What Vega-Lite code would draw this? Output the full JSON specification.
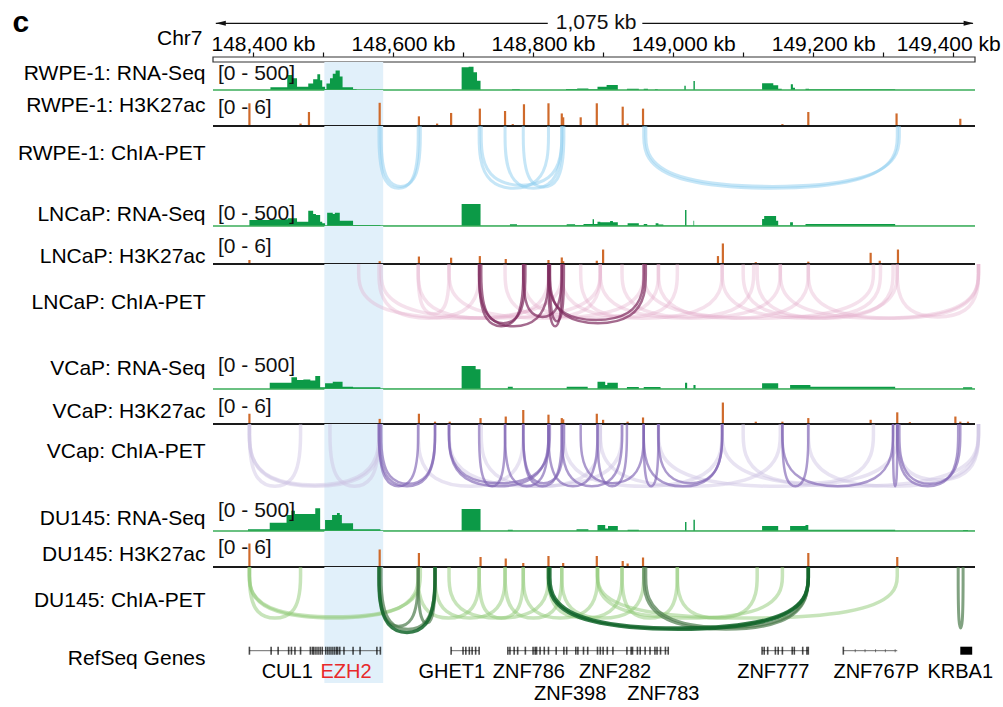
{
"$schema": "https://vega.github.io/schema/vega-lite/v6.json",
"background": "white",
"padding": {"left": 12, "top": 7, "right": 2, "bottom": 2},
"spacing": 0,
"bounds": "flush",
"resolve": {"scale": {"x": "independent", "y": "independent"}},
"config": {
  "view": {"stroke": null},
  "font": "Liberation Sans",
  "text": {"font": "Liberation Sans", "fontSize": 21, "color": "#000"},
  "axisY": {"titleAngle": 0, "titleAlign": "right", "titleBaseline": "middle", "titleX": -8, "titleFontSize": 21, "titleFontWeight": "normal", "titleColor": "#000", "titleFont": "Liberation Sans", "domain": false, "ticks": false, "labels": false, "grid": false},
  "axisX": {"grid": false, "domain": false, "labelColor": "#000", "labelFont": "Liberation Sans", "titleColor": "#000", "titleFont": "Liberation Sans"}
},
"datasets": {
  "hl": [{"s": 148502, "e": 148586}],
  "rna_rwpe": [{"s":148343,"v":0},{"s":148425,"v":50},{"s":148449,"v":280},{"s":148456,"v":220},{"s":148463,"v":60},{"s":148479,"v":120},{"s":148486,"v":200},{"s":148492,"v":290},{"s":148496,"v":180},{"s":148499,"v":60},{"s":148503,"v":20},{"s":148505,"v":120},{"s":148510,"v":220},{"s":148514,"v":300},{"s":148518,"v":360},{"s":148524,"v":250},{"s":148528,"v":50},{"s":148543,"v":15},{"s":148548,"v":0},{"s":148698,"v":420},{"s":148708,"v":430},{"s":148715,"v":330},{"s":148720,"v":170},{"s":148725,"v":0},{"s":148770,"v":15},{"s":148781,"v":0},{"s":148847,"v":20},{"s":148863,"v":30},{"s":148879,"v":13},{"s":148892,"v":61},{"s":148905,"v":93},{"s":148921,"v":0},{"s":148934,"v":24},{"s":148951,"v":0},{"s":148958,"v":24},{"s":148964,"v":0},{"s":148974,"v":13},{"s":148978,"v":0},{"s":149016,"v":80},{"s":149018,"v":0},{"s":149029,"v":167},{"s":149031,"v":0},{"s":149127,"v":124},{"s":149143,"v":90},{"s":149150,"v":24},{"s":149155,"v":0},{"s":149168,"v":105},{"s":149171,"v":40},{"s":149174,"v":0},{"s":149189,"v":24},{"s":149194,"v":13},{"s":149317,"v":0},{"s":149431,"v":0}],
  "rna_lncap": [{"s":148343,"v":0},{"s":148395,"v":130},{"s":148424,"v":145},{"s":148450,"v":167},{"s":148463,"v":94},{"s":148479,"v":333},{"s":148486,"v":261},{"s":148490,"v":240},{"s":148496,"v":94},{"s":148499,"v":58},{"s":148503,"v":5},{"s":148506,"v":290},{"s":148514,"v":260},{"s":148517,"v":290},{"s":148524,"v":116},{"s":148543,"v":22},{"s":148582,"v":8},{"s":148698,"v":478},{"s":148725,"v":8},{"s":148767,"v":36},{"s":148777,"v":10},{"s":148848,"v":36},{"s":148860,"v":20},{"s":148872,"v":43},{"s":148885,"v":145},{"s":148887,"v":43},{"s":148892,"v":94},{"s":148896,"v":80},{"s":148910,"v":110},{"s":148914,"v":80},{"s":148921,"v":10},{"s":148935,"v":58},{"s":148951,"v":10},{"s":148958,"v":43},{"s":148963,"v":10},{"s":148975,"v":58},{"s":148979,"v":30},{"s":148986,"v":10},{"s":149017,"v":348},{"s":149019,"v":10},{"s":149029,"v":116},{"s":149030,"v":10},{"s":149127,"v":150},{"s":149130,"v":217},{"s":149147,"v":116},{"s":149150,"v":10},{"s":149167,"v":80},{"s":149171,"v":10},{"s":149189,"v":43},{"s":149317,"v":5},{"s":149431,"v":5}],
  "rna_vcap": [{"s":148343,"v":0},{"s":148424,"v":93},{"s":148455,"v":172},{"s":148463,"v":132},{"s":148472,"v":138},{"s":148482,"v":125},{"s":148489,"v":191},{"s":148496,"v":25},{"s":148503,"v":83},{"s":148514,"v":107},{"s":148528,"v":34},{"s":148543,"v":25},{"s":148582,"v":5},{"s":148698,"v":338},{"s":148718,"v":290},{"s":148725,"v":5},{"s":148764,"v":34},{"s":148771,"v":5},{"s":148848,"v":34},{"s":148878,"v":5},{"s":148892,"v":107},{"s":148903,"v":60},{"s":148906,"v":93},{"s":148921,"v":5},{"s":148934,"v":30},{"s":148951,"v":5},{"s":148958,"v":30},{"s":148982,"v":5},{"s":149017,"v":93},{"s":149020,"v":5},{"s":149029,"v":60},{"s":149032,"v":5},{"s":149127,"v":83},{"s":149150,"v":5},{"s":149167,"v":59},{"s":149196,"v":34},{"s":149317,"v":5},{"s":149414,"v":25},{"s":149427,"v":5},{"s":149431,"v":5}],
  "rna_du145": [{"s":148343,"v":0},{"s":148393,"v":27},{"s":148424,"v":134},{"s":148448,"v":258},{"s":148455,"v":327},{"s":148460,"v":274},{"s":148486,"v":274},{"s":148489,"v":365},{"s":148496,"v":27},{"s":148503,"v":177},{"s":148513,"v":258},{"s":148520,"v":290},{"s":148524,"v":258},{"s":148527,"v":124},{"s":148543,"v":27},{"s":148582,"v":3},{"s":148698,"v":354},{"s":148725,"v":3},{"s":148764,"v":20},{"s":148771,"v":3},{"s":148862,"v":27},{"s":148879,"v":3},{"s":148892,"v":97},{"s":148903,"v":40},{"s":148907,"v":81},{"s":148921,"v":3},{"s":148935,"v":22},{"s":148951,"v":3},{"s":149017,"v":145},{"s":149019,"v":3},{"s":149029,"v":183},{"s":149031,"v":3},{"s":149127,"v":81},{"s":149150,"v":3},{"s":149167,"v":81},{"s":149189,"v":97},{"s":149193,"v":22},{"s":149317,"v":3},{"s":149414,"v":15},{"s":149421,"v":3},{"s":149431,"v":3}],
  "k27_rwpe": [{"s":148395,"v":4.7},{"s":148468,"v":0.5},{"s":148480,"v":2.9},{"s":148581,"v":4.8},{"s":148637,"v":2.0},{"s":148663,"v":0.5},{"s":148683,"v":2.7},{"s":148724,"v":3.6},{"s":148760,"v":3.1},{"s":148771,"v":0.4},{"s":148787,"v":4.5},{"s":148822,"v":4.7},{"s":148841,"v":2.6},{"s":148843,"v":1.8},{"s":148868,"v":1.8},{"s":148891,"v":4.7},{"s":148928,"v":4.0},{"s":148935,"v":0.5},{"s":148957,"v":3.6},{"s":149156,"v":0.4},{"s":149193,"v":2.9},{"s":149319,"v":2.6},{"s":149410,"v":1.5}],
  "k27_lncap": [{"s":148395,"v":0.86},{"s":148581,"v":0.6},{"s":148637,"v":1.6},{"s":148683,"v":1.35},{"s":148724,"v":1.7},{"s":148761,"v":1.07},{"s":148822,"v":0.86},{"s":148841,"v":1.4},{"s":148843,"v":0.6},{"s":148891,"v":0.7},{"s":148900,"v":3.1},{"s":149064,"v":1.7},{"s":149071,"v":4.4},{"s":149118,"v":0.4},{"s":149193,"v":0.5},{"s":149282,"v":2.4},{"s":149295,"v":0.7},{"s":149321,"v":3.1}],
  "k27_vcap": [{"s":148395,"v":2.2},{"s":148581,"v":1.1},{"s":148637,"v":2.2},{"s":148660,"v":0.5},{"s":148681,"v":0.5},{"s":148725,"v":1.27},{"s":148761,"v":1.6},{"s":148786,"v":3.0},{"s":148822,"v":2.0},{"s":148841,"v":1.27},{"s":148843,"v":1.0},{"s":148891,"v":2.2},{"s":148900,"v":0.9},{"s":148935,"v":0.5},{"s":148957,"v":1.4},{"s":149071,"v":4.6},{"s":149118,"v":0.5},{"s":149156,"v":0.5},{"s":149193,"v":1.27},{"s":149282,"v":0.9},{"s":149320,"v":2.5},{"s":149338,"v":0.4},{"s":149403,"v":1.6},{"s":149410,"v":0.5},{"s":149421,"v":0.5}],
  "k27_du145": [{"s":148395,"v":4.7},{"s":148581,"v":3.5},{"s":148637,"v":2.8},{"s":148725,"v":2.0},{"s":148761,"v":1.7},{"s":148786,"v":0.8},{"s":148822,"v":2.2},{"s":148843,"v":0.8},{"s":148891,"v":2.2},{"s":148928,"v":1.2},{"s":148935,"v":0.7},{"s":148957,"v":1.9},{"s":149193,"v":2.8},{"s":149320,"v":2.0}],
  "arc_rwpe": [
    {"id":"r1","w":"l","x":[148580,148580,148636,148636],"d":[0,1,1,0],"k":[0,1,2,3]},
    {"id":"r2","w":"l","x":[148583,148583,148639,148639],"d":[0,0.97,0.97,0],"k":[0,1,2,3]},
    {"id":"r3","w":"l","x":[148723,148723,148822,148822],"d":[0,1,1,0],"k":[0,1,2,3]},
    {"id":"r4","w":"l","x":[148760,148760,148841,148841],"d":[0,1,1,0],"k":[0,1,2,3]},
    {"id":"r5","w":"l","x":[148786,148786,148844,148844],"d":[0,0.98,0.98,0],"k":[0,1,2,3]},
    {"id":"r6","w":"l","x":[148726,148726,148841,148841],"d":[0,0.95,0.95,0],"k":[0,1,2,3]},
    {"id":"r7","w":"l","x":[148958,148958,149320,149320],"d":[0,1,1,0],"k":[0,1,2,3]},
    {"id":"r8","w":"l","x":[148961,148961,149323,149323],"d":[0,0.97,0.97,0],"k":[0,1,2,3]}
  ],
  "arc_lncap": [
    {"id":"l1","w":"s","x":[148723,148723,148786,148786],"d":[0,1,1,0],"k":[0,1,2,3]},
    {"id":"l2","w":"s","x":[148726,148726,148789,148789],"d":[0,0.95,0.95,0],"k":[0,1,2,3]},
    {"id":"l3","w":"s","x":[148723,148723,148822,148822],"d":[0,1,1,0],"k":[0,1,2,3]},
    {"id":"l4","w":"s","x":[148822,148822,148841,148841],"d":[0,1,1,0],"k":[0,1,2,3]},
    {"id":"l5","w":"s","x":[148824,148824,148844,148844],"d":[0,0.92,0.92,0],"k":[0,1,2,3]},
    {"id":"l6","w":"s","x":[148822,148822,148958,148958],"d":[0,0.9,0.9,0],"k":[0,1,2,3]},
    {"id":"l7","w":"s","x":[148824,148824,148961,148961],"d":[0,0.95,0.95,0],"k":[0,1,2,3]},
    {"id":"l8","w":"s","x":[148786,148786,148841,148841],"d":[0,0.85,0.85,0],"k":[0,1,2,3]},
    {"id":"l9","w":"l","x":[148551,148551,148841,148841],"d":[0,0.87,0.87,0],"k":[0,1,2,3]},
    {"id":"l10","w":"l","x":[148580,148580,148723,148723],"d":[0,0.87,0.87,0],"k":[0,1,2,3]},
    {"id":"l11","w":"l","x":[148583,148583,148896,148896],"d":[0,0.87,0.87,0],"k":[0,1,2,3]},
    {"id":"l12","w":"l","x":[148636,148636,148822,148822],"d":[0,0.87,0.87,0],"k":[0,1,2,3]},
    {"id":"l13","w":"l","x":[148680,148680,148958,148958],"d":[0,0.87,0.87,0],"k":[0,1,2,3]},
    {"id":"l14","w":"l","x":[148760,148760,148896,148896],"d":[0,0.85,0.85,0],"k":[0,1,2,3]},
    {"id":"l15","w":"l","x":[148841,148841,149070,149070],"d":[0,0.87,0.87,0],"k":[0,1,2,3]},
    {"id":"l16","w":"l","x":[148896,148896,149153,149153],"d":[0,0.87,0.87,0],"k":[0,1,2,3]},
    {"id":"l17","w":"l","x":[148927,148927,149115,149115],"d":[0,0.85,0.85,0],"k":[0,1,2,3]},
    {"id":"l18","w":"l","x":[148958,148958,149286,149286],"d":[0,0.87,0.87,0],"k":[0,1,2,3]},
    {"id":"l19","w":"l","x":[148979,148979,149193,149193],"d":[0,0.87,0.87,0],"k":[0,1,2,3]},
    {"id":"l20","w":"l","x":[149070,149070,149320,149320],"d":[0,0.87,0.87,0],"k":[0,1,2,3]},
    {"id":"l21","w":"l","x":[149100,149100,149296,149296],"d":[0,0.85,0.85,0],"k":[0,1,2,3]},
    {"id":"l22","w":"l","x":[149153,149153,149436,149436],"d":[0,0.87,0.87,0],"k":[0,1,2,3]},
    {"id":"l23","w":"l","x":[149193,149193,149436,149436],"d":[0,0.87,0.87,0],"k":[0,1,2,3]},
    {"id":"l24","w":"l","x":[149320,149320,149436,149436],"d":[0,0.85,0.85,0],"k":[0,1,2,3]},
    {"id":"l25","w":"l","x":[148786,148786,148979,148979],"d":[0,0.87,0.87,0],"k":[0,1,2,3]},
    {"id":"l26","w":"l","x":[148868,148868,149006,149006],"d":[0,0.85,0.85,0],"k":[0,1,2,3]},
    {"id":"l27","w":"l","x":[148636,148636,148680,148680],"d":[0,0.8,0.8,0],"k":[0,1,2,3]},
    {"id":"l28","w":"l","x":[149120,149120,149314,149314],"d":[0,0.87,0.87,0],"k":[0,1,2,3]}
  ],
  "arc_vcap": [
    {"id":"v1","w":"s","x":[148580,148580,148636,148636],"d":[0,1,1,0],"k":[0,1,2,3]},
    {"id":"v2","w":"s","x":[148580,148580,148660,148660],"d":[0,1,1,0],"k":[0,1,2,3]},
    {"id":"v3","w":"s","x":[148583,148583,148660,148660],"d":[0,0.96,0.96,0],"k":[0,1,2,3]},
    {"id":"v4","w":"s","x":[148680,148680,148822,148822],"d":[0,1,1,0],"k":[0,1,2,3]},
    {"id":"v5","w":"s","x":[148680,148680,148824,148824],"d":[0,0.95,0.95,0],"k":[0,1,2,3]},
    {"id":"v6","w":"s","x":[148723,148723,148760,148760],"d":[0,1,1,0],"k":[0,1,2,3]},
    {"id":"v7","w":"s","x":[148760,148760,148822,148822],"d":[0,1,1,0],"k":[0,1,2,3]},
    {"id":"v8","w":"s","x":[148786,148786,148841,148841],"d":[0,1,1,0],"k":[0,1,2,3]},
    {"id":"v9","w":"s","x":[148786,148786,148844,148844],"d":[0,0.95,0.95,0],"k":[0,1,2,3]},
    {"id":"v10","w":"s","x":[148822,148822,148892,148892],"d":[0,1,1,0],"k":[0,1,2,3]},
    {"id":"v11","w":"s","x":[148841,148841,148927,148927],"d":[0,1,1,0],"k":[0,1,2,3]},
    {"id":"v12","w":"s","x":[148892,148892,148934,148934],"d":[0,1,1,0],"k":[0,1,2,3]},
    {"id":"v13","w":"s","x":[148868,148868,148958,148958],"d":[0,0.95,0.95,0],"k":[0,1,2,3]},
    {"id":"v14","w":"s","x":[148958,148958,148979,148979],"d":[0,1,1,0],"k":[0,1,2,3]},
    {"id":"v15","w":"s","x":[148958,148958,149070,149070],"d":[0,1,1,0],"k":[0,1,2,3]},
    {"id":"v16","w":"s","x":[148979,148979,149070,149070],"d":[0,0.95,0.95,0],"k":[0,1,2,3]},
    {"id":"v17","w":"s","x":[149156,149156,149193,149193],"d":[0,1,1,0],"k":[0,1,2,3]},
    {"id":"v18","w":"s","x":[149156,149156,149314,149314],"d":[0,1,1,0],"k":[0,1,2,3]},
    {"id":"v19","w":"s","x":[149314,149314,149320,149320],"d":[0,1,1,0],"k":[0,1,2,3]},
    {"id":"v20","w":"s","x":[149320,149320,149407,149407],"d":[0,1,1,0],"k":[0,1,2,3]},
    {"id":"v21","w":"s","x":[149323,149323,149410,149410],"d":[0,0.96,0.96,0],"k":[0,1,2,3]},
    {"id":"v22","w":"l","x":[148395,148395,148468,148468],"d":[0,1,1,0],"k":[0,1,2,3]},
    {"id":"v23","w":"l","x":[148395,148395,148580,148580],"d":[0,0.98,0.98,0],"k":[0,1,2,3]},
    {"id":"v24","w":"l","x":[148395,148395,148583,148583],"d":[0,1,1,0],"k":[0,1,2,3]},
    {"id":"v25","w":"l","x":[148510,148510,148580,148580],"d":[0,1,1,0],"k":[0,1,2,3]},
    {"id":"v26","w":"l","x":[148636,148636,148786,148786],"d":[0,1,1,0],"k":[0,1,2,3]},
    {"id":"v27","w":"l","x":[148726,148726,148896,148896],"d":[0,1,1,0],"k":[0,1,2,3]},
    {"id":"v28","w":"l","x":[148896,148896,149153,149153],"d":[0,1,1,0],"k":[0,1,2,3]},
    {"id":"v29","w":"l","x":[148979,148979,149320,149320],"d":[0,1,1,0],"k":[0,1,2,3]},
    {"id":"v30","w":"l","x":[149070,149070,149436,149436],"d":[0,1,1,0],"k":[0,1,2,3]},
    {"id":"v31","w":"l","x":[149193,149193,149436,149436],"d":[0,1,1,0],"k":[0,1,2,3]},
    {"id":"v32","w":"l","x":[149320,149320,149436,149436],"d":[0,0.9,0.9,0],"k":[0,1,2,3]},
    {"id":"v33","w":"l","x":[148844,148844,149070,149070],"d":[0,1,1,0],"k":[0,1,2,3]},
    {"id":"v34","w":"l","x":[148680,148680,148927,148927],"d":[0,1,1,0],"k":[0,1,2,3]},
    {"id":"v35","w":"l","x":[149100,149100,149286,149286],"d":[0,0.95,0.95,0],"k":[0,1,2,3]}
  ],
  "arc_du145": [
    {"id":"d1","w":"s","x":[148822,148822,149193,149193],"d":[0,1,1,0],"k":[0,1,2,3]},
    {"id":"d2","w":"s","x":[148824,148824,149193,149193],"d":[0,0.98,0.98,0],"k":[0,1,2,3]},
    {"id":"d3","w":"s","x":[148580,148580,148660,148660],"d":[0,1.05,1.05,0],"k":[0,1,2,3]},
    {"id":"d4","w":"m","x":[148583,148583,148660,148660],"d":[0,1,1,0],"k":[0,1,2,3]},
    {"id":"d5","w":"m","x":[148580,148580,148636,148636],"d":[0,0.95,0.95,0],"k":[0,1,2,3]},
    {"id":"d6","w":"m","x":[148636,148636,148660,148660],"d":[0,0.9,0.9,0],"k":[0,1,2,3]},
    {"id":"d7","w":"m","x":[148958,148958,149193,149193],"d":[0,1,1,0],"k":[0,1,2,3]},
    {"id":"d8","w":"m","x":[148961,148961,149193,149193],"d":[0,0.97,0.97,0],"k":[0,1,2,3]},
    {"id":"d9","w":"m","x":[149407,149407,149414,149414],"d":[0,0.98,0.98,0],"k":[0,1,2,3]},
    {"id":"d10","w":"l","x":[148395,148395,148468,148468],"d":[0,0.82,0.82,0],"k":[0,1,2,3]},
    {"id":"d11","w":"l","x":[148395,148395,148636,148636],"d":[0,0.82,0.82,0],"k":[0,1,2,3]},
    {"id":"d12","w":"l","x":[148395,148395,148639,148639],"d":[0,0.8,0.8,0],"k":[0,1,2,3]},
    {"id":"d13","w":"l","x":[148636,148636,148723,148723],"d":[0,0.82,0.82,0],"k":[0,1,2,3]},
    {"id":"d14","w":"l","x":[148660,148660,148760,148760],"d":[0,0.82,0.82,0],"k":[0,1,2,3]},
    {"id":"d15","w":"l","x":[148680,148680,148822,148822],"d":[0,0.82,0.82,0],"k":[0,1,2,3]},
    {"id":"d16","w":"l","x":[148723,148723,148786,148786],"d":[0,0.82,0.82,0],"k":[0,1,2,3]},
    {"id":"d17","w":"l","x":[148760,148760,148841,148841],"d":[0,0.82,0.82,0],"k":[0,1,2,3]},
    {"id":"d18","w":"l","x":[148786,148786,148892,148892],"d":[0,0.82,0.82,0],"k":[0,1,2,3]},
    {"id":"d19","w":"l","x":[148822,148822,148927,148927],"d":[0,0.82,0.82,0],"k":[0,1,2,3]},
    {"id":"d20","w":"l","x":[148841,148841,148958,148958],"d":[0,0.82,0.82,0],"k":[0,1,2,3]},
    {"id":"d21","w":"l","x":[148892,148892,149156,149156],"d":[0,0.82,0.82,0],"k":[0,1,2,3]},
    {"id":"d22","w":"l","x":[148892,148892,149320,149320],"d":[0,0.82,0.82,0],"k":[0,1,2,3]},
    {"id":"d23","w":"l","x":[149006,149006,149120,149120],"d":[0,0.82,0.82,0],"k":[0,1,2,3]},
    {"id":"d24","w":"l","x":[148927,148927,149006,149006],"d":[0,0.82,0.82,0],"k":[0,1,2,3]}
  ],
  "gene_lines": [{"s":148395,"e":148582},{"s":148683,"e":148723},{"s":148764,"e":148993},{"s":149127,"e":149193},{"s":149243,"e":149320}],
  "gene_ex": [{"s":148395},{"s":148426},{"s":148436},{"s":148451},{"s":148455},{"s":148460},{"s":148468},{"s":148482},{"s":148485},{"s":148487},{"s":148490},{"s":148493},{"s":148496},{"s":148499},{"s":148504},{"s":148507},{"s":148510},{"s":148513},{"s":148516},{"s":148519},{"s":148521},{"s":148524},{"s":148530},{"s":148543},{"s":148553},{"s":148577},{"s":148582},{"s":148683},{"s":148700},{"s":148704},{"s":148709},{"s":148713},{"s":148718},{"s":148723},{"s":148764},{"s":148767},{"s":148773},{"s":148778},{"s":148789},{"s":148800},{"s":148803},{"s":148805},{"s":148810},{"s":148816},{"s":148822},{"s":148833},{"s":148844},{"s":148848},{"s":148861},{"s":148864},{"s":148872},{"s":148878},{"s":148892},{"s":148896},{"s":148900},{"s":148906},{"s":148914},{"s":148934},{"s":148940},{"s":148942},{"s":148949},{"s":148953},{"s":148960},{"s":148967},{"s":148974},{"s":148977},{"s":148982},{"s":148989},{"s":148993},{"s":149127},{"s":149130},{"s":149135},{"s":149146},{"s":149150},{"s":149156},{"s":149170},{"s":149173},{"s":149185},{"s":149191},{"s":149193},{"s":149243}],
  "gene_small": [{"s":149260},{"s":149274},{"s":149289},{"s":149303},{"s":149317}],
  "gene_blocks": [{"s":149410,"e":149427}],
  "gene_names": [{"name":"CUL1","s":148449,"row":"r1"},{"name":"EZH2","s":148533,"row":"r1"},{"name":"GHET1","s":148684,"row":"r1"},{"name":"ZNF786","s":148794,"row":"r1"},{"name":"ZNF282","s":148917,"row":"r1"},{"name":"ZNF777","s":149143,"row":"r1"},{"name":"ZNF767P","s":149290,"row":"r1"},{"name":"KRBA1","s":149410,"row":"r1"},{"name":"ZNF398","s":148853,"row":"r2"},{"name":"ZNF783","s":148986,"row":"r2"}]
},
"vconcat": [
  {"width": 762, "height": 5,
   "resolve": {"axis": {"x": "independent"}},
   "layer": [
    {"data": {"values": [{}]}, "mark": {"type": "rect", "fill": "#fff", "stroke": "#333", "strokeWidth": 1.2},
     "encoding": {
      "x": {"datum": 148343, "type": "quantitative", "scale": {"domain": [148343, 149431], "nice": false, "zero": false},
            "axis": {"orient": "top", "values": [148400,148500,148600,148700,148800,148900,149000,149100,149200,149300,149400], "labels": false, "domain": false, "ticks": true, "tickSize": 5, "tickWidth": 1.2, "tickColor": "#111", "grid": false, "title": null}},
      "x2": {"datum": 149431},
      "y": {"datum": 0, "type": "quantitative", "scale": {"domain": [0, 1], "nice": false, "zero": false},
            "axis": {"title": "c", "titleX": -201, "titleY": -35, "titleAlign": "left", "titleFontSize": 30, "titleFontWeight": "bold"}},
      "y2": {"datum": 1}}},
    {"data": {"values": [{}]}, "mark": {"type": "rule", "color": "#111", "strokeWidth": 1.2},
     "encoding": {
      "x": {"datum": 148347, "type": "quantitative", "scale": {"domain": [148343, 149431], "nice": false, "zero": false},
            "axis": {"orient": "top", "values": [148400,148600,148800,149000,149200], "labelExpr": "format(datum.value, ',') + ' kb'", "labelFontSize": 21, "labelPadding": 3, "labelOffset": 10, "ticks": false, "domain": false, "grid": false, "title": "Chr7", "titleFontSize": 21, "titleFontWeight": "normal", "titleX": -11, "titleY": -19, "titleAlign": "right", "titleBaseline": "middle", "titleAngle": 0}},
      "x2": {"datum": 148821},
      "y": {"datum": 7.74, "type": "quantitative", "scale": {"domain": [0, 1], "nice": false, "zero": false}}}},
    {"data": {"values": [{}]}, "mark": {"type": "rule", "color": "#111", "strokeWidth": 1.2},
     "encoding": {
      "x": {"datum": 148956, "type": "quantitative", "scale": {"domain": [148343, 149431], "nice": false, "zero": false},
            "axis": {"orient": "top", "values": [149400], "labelExpr": "format(datum.value, ',') + ' kb'", "labelFontSize": 21, "labelPadding": 3, "labelOffset": -5, "ticks": false, "domain": false, "grid": false, "title": null}},
      "x2": {"datum": 149428},
      "y": {"datum": 7.74, "type": "quantitative", "scale": {"domain": [0, 1], "nice": false, "zero": false}}}},
    {"data": {"values": [{}]}, "mark": {"type": "point", "shape": "M0,0L2,-0.5L2,0.5Z", "filled": true, "color": "#111", "size": 100, "opacity": 1},
     "encoding": {
      "x": {"datum": 148347, "type": "quantitative", "scale": {"domain": [148343, 149431], "nice": false, "zero": false}, "axis": null},
      "y": {"datum": 7.74, "type": "quantitative", "scale": {"domain": [0, 1], "nice": false, "zero": false}}}},
    {"data": {"values": [{}]}, "mark": {"type": "point", "shape": "M0,0L-2,-0.5L-2,0.5Z", "filled": true, "color": "#111", "size": 100, "opacity": 1},
     "encoding": {
      "x": {"datum": 149429, "type": "quantitative", "scale": {"domain": [148343, 149431], "nice": false, "zero": false}, "axis": null},
      "y": {"datum": 7.74, "type": "quantitative", "scale": {"domain": [0, 1], "nice": false, "zero": false}}}},
    {"data": {"values": [{}]}, "mark": {"type": "text", "fontSize": 21, "align": "center", "baseline": "middle", "color": "#111"},
     "encoding": {
      "x": {"datum": 148890, "type": "quantitative", "scale": {"domain": [148343, 149431], "nice": false, "zero": false}, "axis": null},
      "y": {"datum": 7.74, "type": "quantitative", "scale": {"domain": [0, 1], "nice": false, "zero": false}},
      "text": {"value": "1,075 kb"}}}
   ]},

  {"width": 762, "height": 28, "layer": [
    {"data": {"name": "hl"}, "mark": {"type": "rect", "color": "#e1f0fa"}, "encoding": {"x": {"field": "s", "type": "quantitative", "scale": {"domain": [148343, 149431], "nice": false, "zero": false}, "axis": null}, "x2": {"field": "e"}}},
    {"data": {"name": "rna_rwpe"}, "mark": {"type": "area", "interpolate": "step-after", "color": "#0c9a47"}, "encoding": {"x": {"field": "s", "type": "quantitative", "scale": {"domain": [148343, 149431], "nice": false, "zero": false}, "axis": null}, "y": {"field": "v", "type": "quantitative", "scale": {"domain": [0, 519], "nice": false, "zero": false}, "axis": {"title": "RWPE-1: RNA-Seq", "titleY": 11.5}}}},
    {"data": {"values": [{}]}, "mark": {"type": "rule", "color": "#3aac58", "strokeWidth": 1.5}, "encoding": {"y": {"datum": 0, "type": "quantitative", "scale": {"domain": [0, 519], "nice": false, "zero": false}}}},
    {"data": {"values": [{}]}, "mark": {"type": "text", "align": "left", "baseline": "top", "dx": 5, "fontSize": 21, "color": "#111"}, "encoding": {"x": {"datum": 148343, "type": "quantitative", "scale": {"domain": [148343, 149431], "nice": false, "zero": false}, "axis": null}, "y": {"datum": 500, "type": "quantitative", "scale": {"domain": [0, 519], "nice": false, "zero": false}}, "text": {"value": "[0 - 500]"}}}
  ]},
  {"width": 762, "height": 36, "layer": [
    {"data": {"name": "hl"}, "mark": {"type": "rect", "color": "#e1f0fa"}, "encoding": {"x": {"field": "s", "type": "quantitative", "scale": {"domain": [148343, 149431], "nice": false, "zero": false}, "axis": null}, "x2": {"field": "e"}}},
    {"data": {"name": "k27_rwpe"}, "mark": {"type": "rule", "color": "#cf6a2b", "strokeWidth": 2.2}, "encoding": {"x": {"field": "s", "type": "quantitative", "scale": {"domain": [148343, 149431], "nice": false, "zero": false}, "axis": null}, "y": {"field": "v", "type": "quantitative", "scale": {"domain": [0, 7.45], "nice": false, "zero": false}, "axis": {"title": "RWPE-1: H3K27ac", "titleY": 15}}, "y2": {"datum": 0}}},
    {"data": {"values": [{}]}, "mark": {"type": "rule", "color": "#1a1a1a", "strokeWidth": 2.2}, "encoding": {"y": {"datum": 0, "type": "quantitative", "scale": {"domain": [0, 7.45], "nice": false, "zero": false}}}},
    {"data": {"values": [{}]}, "mark": {"type": "text", "align": "left", "baseline": "top", "dx": 5, "fontSize": 21, "color": "#111"}, "encoding": {"x": {"datum": 148343, "type": "quantitative", "scale": {"domain": [148343, 149431], "nice": false, "zero": false}, "axis": null}, "y": {"datum": 6, "type": "quantitative", "scale": {"domain": [0, 7.45], "nice": false, "zero": false}}, "text": {"value": "[0 - 6]"}}}
  ]},
  {"width": 762, "height": 77, "layer": [
    {"data": {"name": "hl"}, "mark": {"type": "rect", "color": "#e1f0fa"}, "encoding": {"x": {"field": "s", "type": "quantitative", "scale": {"domain": [148343, 149431], "nice": false, "zero": false}, "axis": null}, "x2": {"field": "e"}}},
    {"data": {"name": "arc_rwpe"}, "transform": [{"flatten": ["x", "d", "k"]}], "mark": {"type": "line", "interpolate": "basis", "color": "#8ecdf0", "strokeWidth": 3, "opacity": 0.5}, "encoding": {"x": {"field": "x", "type": "quantitative", "scale": {"domain": [148343, 149431], "nice": false, "zero": false}, "axis": null}, "y": {"field": "d", "type": "quantitative", "scale": {"domain": [0, 1.1846], "reverse": true, "nice": false, "zero": false}, "axis": {"title": "RWPE-1: ChIA-PET", "titleY": 27}}, "detail": {"field": "id", "type": "nominal"}, "order": {"field": "k", "type": "quantitative"}}}
  ]},

  {"width": 762, "height": 23, "layer": [
    {"data": {"name": "hl"}, "mark": {"type": "rect", "color": "#e1f0fa"}, "encoding": {"x": {"field": "s", "type": "quantitative", "scale": {"domain": [148343, 149431], "nice": false, "zero": false}, "axis": null}, "x2": {"field": "e"}}},
    {"data": {"name": "rna_lncap"}, "mark": {"type": "area", "interpolate": "step-after", "color": "#0c9a47"}, "encoding": {"x": {"field": "s", "type": "quantitative", "scale": {"domain": [148343, 149431], "nice": false, "zero": false}, "axis": null}, "y": {"field": "v", "type": "quantitative", "scale": {"domain": [0, 500], "nice": false, "zero": false}, "axis": {"title": "LNCaP: RNA-Seq", "titleY": 11}}}},
    {"data": {"values": [{}]}, "mark": {"type": "rule", "color": "#3aac58", "strokeWidth": 1.5}, "encoding": {"y": {"datum": 0, "type": "quantitative", "scale": {"domain": [0, 500], "nice": false, "zero": false}}}},
    {"data": {"values": [{}]}, "mark": {"type": "text", "align": "left", "baseline": "top", "dx": 5, "fontSize": 21, "color": "#111"}, "encoding": {"x": {"datum": 148343, "type": "quantitative", "scale": {"domain": [148343, 149431], "nice": false, "zero": false}, "axis": null}, "y": {"datum": 500, "type": "quantitative", "scale": {"domain": [0, 500], "nice": false, "zero": false}}, "text": {"value": "[0 - 500]"}}}
  ]},
  {"width": 762, "height": 38, "layer": [
    {"data": {"name": "hl"}, "mark": {"type": "rect", "color": "#e1f0fa"}, "encoding": {"x": {"field": "s", "type": "quantitative", "scale": {"domain": [148343, 149431], "nice": false, "zero": false}, "axis": null}, "x2": {"field": "e"}}},
    {"data": {"name": "k27_lncap"}, "mark": {"type": "rule", "color": "#cf6a2b", "strokeWidth": 2.2}, "encoding": {"x": {"field": "s", "type": "quantitative", "scale": {"domain": [148343, 149431], "nice": false, "zero": false}, "axis": null}, "y": {"field": "v", "type": "quantitative", "scale": {"domain": [0, 8.14], "nice": false, "zero": false}, "axis": {"title": "LNCaP: H3K27ac", "titleY": 30}}, "y2": {"datum": 0}}},
    {"data": {"values": [{}]}, "mark": {"type": "rule", "color": "#1a1a1a", "strokeWidth": 2.2}, "encoding": {"y": {"datum": 0, "type": "quantitative", "scale": {"domain": [0, 8.14], "nice": false, "zero": false}}}},
    {"data": {"values": [{}]}, "mark": {"type": "text", "align": "left", "baseline": "top", "dx": 5, "fontSize": 21, "color": "#111"}, "encoding": {"x": {"datum": 148343, "type": "quantitative", "scale": {"domain": [148343, 149431], "nice": false, "zero": false}, "axis": null}, "y": {"datum": 6, "type": "quantitative", "scale": {"domain": [0, 8.14], "nice": false, "zero": false}}, "text": {"value": "[0 - 6]"}}}
  ]},
  {"width": 762, "height": 91, "layer": [
    {"data": {"name": "hl"}, "mark": {"type": "rect", "color": "#e1f0fa"}, "encoding": {"x": {"field": "s", "type": "quantitative", "scale": {"domain": [148343, 149431], "nice": false, "zero": false}, "axis": null}, "x2": {"field": "e"}}},
    {"data": {"name": "arc_lncap"}, "transform": [{"filter": "datum.w === 'l'"}, {"flatten": ["x", "d", "k"]}], "mark": {"type": "line", "interpolate": "basis", "color": "#e2a9c8", "strokeWidth": 3.5, "opacity": 0.35}, "encoding": {"x": {"field": "x", "type": "quantitative", "scale": {"domain": [148343, 149431], "nice": false, "zero": false}, "axis": null}, "y": {"field": "d", "type": "quantitative", "scale": {"domain": [0, 1.4], "reverse": true, "nice": false, "zero": false}, "axis": {"title": "LNCaP: ChIA-PET", "titleY": 38}}, "detail": {"field": "id", "type": "nominal"}, "order": {"field": "k", "type": "quantitative"}}},
    {"data": {"name": "arc_lncap"}, "transform": [{"filter": "datum.w === 's'"}, {"flatten": ["x", "d", "k"]}], "mark": {"type": "line", "interpolate": "basis", "color": "#7d2b5e", "strokeWidth": 2.5, "opacity": 0.7}, "encoding": {"x": {"field": "x", "type": "quantitative", "scale": {"domain": [148343, 149431], "nice": false, "zero": false}, "axis": null}, "y": {"field": "d", "type": "quantitative", "scale": {"domain": [0, 1.4], "reverse": true, "nice": false, "zero": false}}, "detail": {"field": "id", "type": "nominal"}, "order": {"field": "k", "type": "quantitative"}}}
  ]},

  {"width": 762, "height": 34, "layer": [
    {"data": {"name": "hl"}, "mark": {"type": "rect", "color": "#e1f0fa"}, "encoding": {"x": {"field": "s", "type": "quantitative", "scale": {"domain": [148343, 149431], "nice": false, "zero": false}, "axis": null}, "x2": {"field": "e"}}},
    {"data": {"name": "rna_vcap"}, "mark": {"type": "area", "interpolate": "step-after", "color": "#0c9a47"}, "encoding": {"x": {"field": "s", "type": "quantitative", "scale": {"domain": [148343, 149431], "nice": false, "zero": false}, "axis": null}, "y": {"field": "v", "type": "quantitative", "scale": {"domain": [0, 500], "nice": false, "zero": false}, "axis": {"title": "VCaP: RNA-Seq", "titleY": 13}}}},
    {"data": {"values": [{}]}, "mark": {"type": "rule", "color": "#3aac58", "strokeWidth": 1.5}, "encoding": {"y": {"datum": 0, "type": "quantitative", "scale": {"domain": [0, 500], "nice": false, "zero": false}}}},
    {"data": {"values": [{}]}, "mark": {"type": "text", "align": "left", "baseline": "top", "dx": 5, "fontSize": 21, "color": "#111"}, "encoding": {"x": {"datum": 148343, "type": "quantitative", "scale": {"domain": [148343, 149431], "nice": false, "zero": false}, "axis": null}, "y": {"datum": 500, "type": "quantitative", "scale": {"domain": [0, 500], "nice": false, "zero": false}}, "text": {"value": "[0 - 500]"}}}
  ]},
  {"width": 762, "height": 35, "layer": [
    {"data": {"name": "hl"}, "mark": {"type": "rect", "color": "#e1f0fa"}, "encoding": {"x": {"field": "s", "type": "quantitative", "scale": {"domain": [148343, 149431], "nice": false, "zero": false}, "axis": null}, "x2": {"field": "e"}}},
    {"data": {"name": "k27_vcap"}, "mark": {"type": "rule", "color": "#cf6a2b", "strokeWidth": 2.2}, "encoding": {"x": {"field": "s", "type": "quantitative", "scale": {"domain": [148343, 149431], "nice": false, "zero": false}, "axis": null}, "y": {"field": "v", "type": "quantitative", "scale": {"domain": [0, 7.5], "nice": false, "zero": false}, "axis": {"title": "VCaP: H3K27ac", "titleY": 22}}, "y2": {"datum": 0}}},
    {"data": {"values": [{}]}, "mark": {"type": "rule", "color": "#1a1a1a", "strokeWidth": 2.2}, "encoding": {"y": {"datum": 0, "type": "quantitative", "scale": {"domain": [0, 7.5], "nice": false, "zero": false}}}},
    {"data": {"values": [{}]}, "mark": {"type": "text", "align": "left", "baseline": "top", "dx": 5, "fontSize": 21, "color": "#111"}, "encoding": {"x": {"datum": 148343, "type": "quantitative", "scale": {"domain": [148343, 149431], "nice": false, "zero": false}, "axis": null}, "y": {"datum": 6, "type": "quantitative", "scale": {"domain": [0, 7.5], "nice": false, "zero": false}}, "text": {"value": "[0 - 6]"}}}
  ]},
  {"width": 762, "height": 76, "layer": [
    {"data": {"name": "hl"}, "mark": {"type": "rect", "color": "#e1f0fa"}, "encoding": {"x": {"field": "s", "type": "quantitative", "scale": {"domain": [148343, 149431], "nice": false, "zero": false}, "axis": null}, "x2": {"field": "e"}}},
    {"data": {"name": "arc_vcap"}, "transform": [{"filter": "datum.w === 'l'"}, {"flatten": ["x", "d", "k"]}], "mark": {"type": "line", "interpolate": "basis", "color": "#cbc0e3", "strokeWidth": 3.5, "opacity": 0.45}, "encoding": {"x": {"field": "x", "type": "quantitative", "scale": {"domain": [148343, 149431], "nice": false, "zero": false}, "axis": null}, "y": {"field": "d", "type": "quantitative", "scale": {"domain": [0, 1.1692], "reverse": true, "nice": false, "zero": false}, "axis": {"title": "VCap: ChIA-PET", "titleY": 27}}, "detail": {"field": "id", "type": "nominal"}, "order": {"field": "k", "type": "quantitative"}}},
    {"data": {"name": "arc_vcap"}, "transform": [{"filter": "datum.w === 's'"}, {"flatten": ["x", "d", "k"]}], "mark": {"type": "line", "interpolate": "basis", "color": "#7f64b4", "strokeWidth": 2.5, "opacity": 0.65}, "encoding": {"x": {"field": "x", "type": "quantitative", "scale": {"domain": [148343, 149431], "nice": false, "zero": false}, "axis": null}, "y": {"field": "d", "type": "quantitative", "scale": {"domain": [0, 1.1692], "reverse": true, "nice": false, "zero": false}}, "detail": {"field": "id", "type": "nominal"}, "order": {"field": "k", "type": "quantitative"}}}
  ]},

  {"width": 762, "height": 31, "layer": [
    {"data": {"name": "hl"}, "mark": {"type": "rect", "color": "#e1f0fa"}, "encoding": {"x": {"field": "s", "type": "quantitative", "scale": {"domain": [148343, 149431], "nice": false, "zero": false}, "axis": null}, "x2": {"field": "e"}}},
    {"data": {"name": "rna_du145"}, "mark": {"type": "area", "interpolate": "step-after", "color": "#0c9a47"}, "encoding": {"x": {"field": "s", "type": "quantitative", "scale": {"domain": [148343, 149431], "nice": false, "zero": false}, "axis": null}, "y": {"field": "v", "type": "quantitative", "scale": {"domain": [0, 500], "nice": false, "zero": false}, "axis": {"title": "DU145: RNA-Seq", "titleY": 18}}}},
    {"data": {"values": [{}]}, "mark": {"type": "rule", "color": "#3aac58", "strokeWidth": 1.5}, "encoding": {"y": {"datum": 0, "type": "quantitative", "scale": {"domain": [0, 500], "nice": false, "zero": false}}}},
    {"data": {"values": [{}]}, "mark": {"type": "text", "align": "left", "baseline": "top", "dx": 5, "fontSize": 21, "color": "#111"}, "encoding": {"x": {"datum": 148343, "type": "quantitative", "scale": {"domain": [148343, 149431], "nice": false, "zero": false}, "axis": null}, "y": {"datum": 500, "type": "quantitative", "scale": {"domain": [0, 500], "nice": false, "zero": false}}, "text": {"value": "[0 - 500]"}}}
  ]},
  {"width": 762, "height": 36, "layer": [
    {"data": {"name": "hl"}, "mark": {"type": "rect", "color": "#e1f0fa"}, "encoding": {"x": {"field": "s", "type": "quantitative", "scale": {"domain": [148343, 149431], "nice": false, "zero": false}, "axis": null}, "x2": {"field": "e"}}},
    {"data": {"name": "k27_du145"}, "mark": {"type": "rule", "color": "#cf6a2b", "strokeWidth": 2.2}, "encoding": {"x": {"field": "s", "type": "quantitative", "scale": {"domain": [148343, 149431], "nice": false, "zero": false}, "axis": null}, "y": {"field": "v", "type": "quantitative", "scale": {"domain": [0, 7.2], "nice": false, "zero": false}, "axis": {"title": "DU145: H3K27ac", "titleY": 23}}, "y2": {"datum": 0}}},
    {"data": {"values": [{}]}, "mark": {"type": "rule", "color": "#1a1a1a", "strokeWidth": 2.2}, "encoding": {"y": {"datum": 0, "type": "quantitative", "scale": {"domain": [0, 7.2], "nice": false, "zero": false}}}},
    {"data": {"values": [{}]}, "mark": {"type": "text", "align": "left", "baseline": "top", "dx": 5, "fontSize": 21, "color": "#111"}, "encoding": {"x": {"datum": 148343, "type": "quantitative", "scale": {"domain": [148343, 149431], "nice": false, "zero": false}, "axis": null}, "y": {"datum": 6, "type": "quantitative", "scale": {"domain": [0, 7.2], "nice": false, "zero": false}}, "text": {"value": "[0 - 6]"}}}
  ]},
  {"width": 762, "height": 73, "layer": [
    {"data": {"name": "hl"}, "mark": {"type": "rect", "color": "#e1f0fa"}, "encoding": {"x": {"field": "s", "type": "quantitative", "scale": {"domain": [148343, 149431], "nice": false, "zero": false}, "axis": null}, "x2": {"field": "e"}}},
    {"data": {"name": "arc_du145"}, "transform": [{"filter": "datum.w === 'l'"}, {"flatten": ["x", "d", "k"]}], "mark": {"type": "line", "interpolate": "basis", "color": "#8fca75", "strokeWidth": 3.5, "opacity": 0.5}, "encoding": {"x": {"field": "x", "type": "quantitative", "scale": {"domain": [148343, 149431], "nice": false, "zero": false}, "axis": null}, "y": {"field": "d", "type": "quantitative", "scale": {"domain": [0, 1.123], "reverse": true, "nice": false, "zero": false}, "axis": {"title": "DU145: ChIA-PET", "titleY": 33}}, "detail": {"field": "id", "type": "nominal"}, "order": {"field": "k", "type": "quantitative"}}},
    {"data": {"name": "arc_du145"}, "transform": [{"filter": "datum.w === 'm'"}, {"flatten": ["x", "d", "k"]}], "mark": {"type": "line", "interpolate": "basis", "color": "#4b7b4b", "strokeWidth": 3, "opacity": 0.7}, "encoding": {"x": {"field": "x", "type": "quantitative", "scale": {"domain": [148343, 149431], "nice": false, "zero": false}, "axis": null}, "y": {"field": "d", "type": "quantitative", "scale": {"domain": [0, 1.123], "reverse": true, "nice": false, "zero": false}}, "detail": {"field": "id", "type": "nominal"}, "order": {"field": "k", "type": "quantitative"}}},
    {"data": {"name": "arc_du145"}, "transform": [{"filter": "datum.w === 's'"}, {"flatten": ["x", "d", "k"]}], "mark": {"type": "line", "interpolate": "basis", "color": "#12652a", "strokeWidth": 3.5, "opacity": 0.85}, "encoding": {"x": {"field": "x", "type": "quantitative", "scale": {"domain": [148343, 149431], "nice": false, "zero": false}, "axis": null}, "y": {"field": "d", "type": "quantitative", "scale": {"domain": [0, 1.123], "reverse": true, "nice": false, "zero": false}}, "detail": {"field": "id", "type": "nominal"}, "order": {"field": "k", "type": "quantitative"}}}
  ]},

  {"width": 762, "height": 43, "layer": [
    {"data": {"name": "hl"}, "mark": {"type": "rect", "color": "#e1f0fa"}, "encoding": {"x": {"field": "s", "type": "quantitative", "scale": {"domain": [148343, 149431], "nice": false, "zero": false}, "axis": null}, "x2": {"field": "e"}}},
    {"data": {"name": "gene_lines"}, "mark": {"type": "rule", "color": "#444", "strokeWidth": 0.8}, "encoding": {"x": {"field": "s", "type": "quantitative", "scale": {"domain": [148343, 149431], "nice": false, "zero": false}, "axis": null}, "x2": {"field": "e"}, "y": {"datum": "feat", "type": "ordinal", "scale": {"type": "point", "domain": ["feat", "r1", "r2"], "range": [10.7, 54], "padding": 0}, "axis": {"title": "RefSeq Genes", "titleY": 18}}}},
    {"data": {"name": "gene_ex"}, "mark": {"type": "tick", "color": "#000", "thickness": 1.6, "size": 8, "orient": "vertical"}, "encoding": {"x": {"field": "s", "type": "quantitative", "scale": {"domain": [148343, 149431], "nice": false, "zero": false}, "axis": null}, "y": {"datum": "feat", "type": "ordinal", "scale": {"type": "point", "domain": ["feat", "r1", "r2"], "range": [10.7, 54], "padding": 0}}}},
    {"data": {"name": "gene_small"}, "mark": {"type": "tick", "color": "#444", "thickness": 1, "size": 3, "orient": "vertical"}, "encoding": {"x": {"field": "s", "type": "quantitative", "scale": {"domain": [148343, 149431], "nice": false, "zero": false}, "axis": null}, "y": {"datum": "feat", "type": "ordinal", "scale": {"type": "point", "domain": ["feat", "r1", "r2"], "range": [10.7, 54], "padding": 0}}}},
    {"data": {"name": "gene_blocks"}, "mark": {"type": "rule", "color": "#000", "strokeWidth": 8}, "encoding": {"x": {"field": "s", "type": "quantitative", "scale": {"domain": [148343, 149431], "nice": false, "zero": false}, "axis": null}, "x2": {"field": "e"}, "y": {"datum": "feat", "type": "ordinal", "scale": {"type": "point", "domain": ["feat", "r1", "r2"], "range": [10.7, 54], "padding": 0}}}},
    {"data": {"name": "gene_names"}, "mark": {"type": "text", "fontSize": 20, "align": "center", "baseline": "middle"}, "encoding": {"x": {"field": "s", "type": "quantitative", "scale": {"domain": [148343, 149431], "nice": false, "zero": false}, "axis": null}, "y": {"field": "row", "type": "ordinal", "scale": {"type": "point", "domain": ["feat", "r1", "r2"], "range": [10.7, 54], "padding": 0}}, "text": {"field": "name"}, "color": {"condition": {"test": "datum.name === 'EZH2'", "value": "#e8292a"}, "value": "#000"}}}
  ]}
]
}
